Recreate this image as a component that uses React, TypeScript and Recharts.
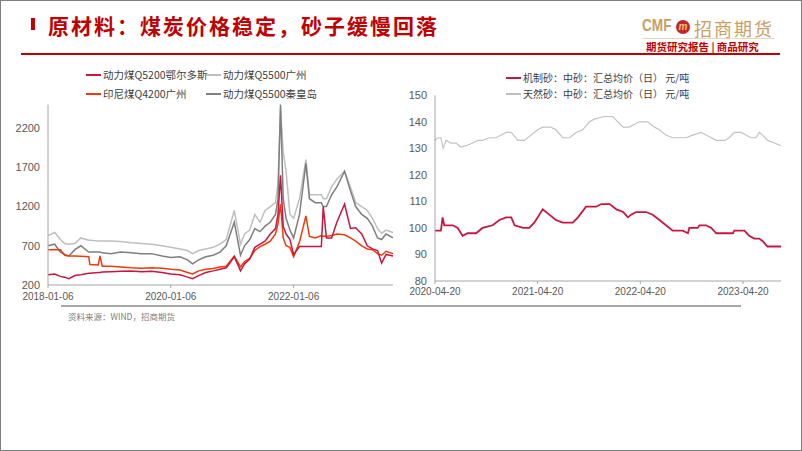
import React from 'react';
import { LineChart, Line, XAxis, YAxis } from 'recharts';

// left chart: thermal coal prices
const coalDates = [
  '2018-01-06', '2018-02-15', '2018-03-20', '2018-04-15', '2018-05-10', '2018-06-15', '2018-07-20',
  '2018-09-05', '2018-09-12', '2018-11-01', '2018-11-11', '2018-11-25', '2019-01-15', '2019-03-15',
  '2019-05-15', '2019-07-15', '2019-09-15', '2019-11-15', '2020-01-06', '2020-03-01', '2020-04-15',
  '2020-05-15', '2020-06-20', '2020-08-01', '2020-09-15', '2020-10-25', '2020-12-01', '2021-01-18',
  '2021-02-24', '2021-03-20', '2021-04-20', '2021-05-20', '2021-06-20', '2021-07-20', '2021-08-20',
  '2021-09-20', '2021-10-05', '2021-10-20', '2021-11-05', '2021-11-22', '2021-12-15', '2022-01-06',
  '2022-02-10', '2022-03-20', '2022-04-10', '2022-05-15', '2022-06-20', '2022-07-01', '2022-07-20',
  '2022-08-20', '2022-09-20', '2022-11-05', '2022-12-10', '2023-01-10', '2023-02-15', '2023-03-20',
  '2023-04-20', '2023-05-20', '2023-06-13', '2023-07-10', '2023-08-20',
];
const ordosQ5200 = [
  330, 340, 310, 300, 280, 320, 330, 350, 350, 360, 360, 365, 370, 375, 380, 370, 375, 360, 340, 330,
  300, 280, 320, 360, 380, 400, 420, 560, 380, 470, 530, 680, 720, 760, 850, 920, 1100, 1600, 950, 850,
  780, 590, 690, 690, 690, 690, 690, 1200, 800, 800, 1000, 1230, 920, 930, 850, 700, 660, 640, 480, 590, 570,
];
const guangzhouQ5500 = [
  830, 870, 780, 730, 720, 730, 800, 770, 770, 760, 760, 760, 760, 755, 740, 730, 720, 700, 680, 660,
  640, 600, 640, 660, 680, 720, 780, 1150, 720, 850, 900, 1100, 1000, 1150, 1200, 1250, 1500, 2450, 1900, 1650,
  1100, 1050, 1300, 1800, 1350, 1350, 1350, 1300, 1300, 1450, 1550, 1650, 1450, 1250, 1200, 1150, 1050, 920, 860, 900, 870,
];
const indoQ4200 = [
  650, 650, 650, 580, 570, 570, 565, 560, 460, 455, 570, 440, 440, 430, 420, 415, 420, 415, 400, 390,
  360, 340, 380, 400, 410, 430, 440, 570, 430, 500, 540, 640, 690, 720, 760, 850, 980, 1230, 800, 700,
  680, 560, 750, 1080, 820, 800, 830, 820, 820, 830, 850, 840, 800, 760, 700, 660, 650, 600, 580, 630, 600,
];
const qhdQ5500 = [
  700, 720, 620, 590, 570, 650, 700, 620, 620, 620, 620, 610, 600, 620, 610, 600, 600, 570, 550, 560,
  520, 470, 520, 560, 580, 620, 700, 1000, 580, 700, 780, 920, 880, 950, 1000, 1100, 1300, 2500, 1300, 1050,
  900, 800, 1100, 1750, 1300, 1250, 1250, 1200, 1200, 1350, 1450, 1650, 1400, 1200, 1100, 1050, 950, 800, 780, 850, 800,
];
const coalTicks = ['2018-01-06', '2020-01-06', '2022-01-06'];
const coalYTicks = [200, 700, 1200, 1700, 2200];

// right chart: sand prices
const machineSandDates = [
  '2020-04-20', '2020-05-11', '2020-05-17', '2020-05-23', '2020-06-22', '2020-07-10', '2020-07-27',
  '2020-08-14', '2020-09-13', '2020-10-06', '2020-11-11', '2020-12-05', '2020-12-29', '2021-01-16',
  '2021-01-28', '2021-02-27', '2021-03-21', '2021-04-08', '2021-05-08', '2021-05-31', '2021-06-24',
  '2021-07-18', '2021-08-23', '2021-09-10', '2021-10-09', '2021-11-14', '2021-12-02', '2022-01-01',
  '2022-01-25', '2022-02-18', '2022-03-07', '2022-03-18', '2022-04-05', '2022-05-10', '2022-06-03',
  '2022-06-27', '2022-07-20', '2022-08-13', '2022-09-18', '2022-10-06', '2022-10-11', '2022-11-10',
  '2022-11-16', '2022-12-10', '2022-12-28', '2023-01-15', '2023-02-20', '2023-03-15', '2023-03-20',
  '2023-04-25', '2023-05-12', '2023-05-30', '2023-06-17', '2023-06-29', '2023-07-16', '2023-09-02',
];
const machineSand = [
  99, 99, 104, 101, 101, 100, 97, 98, 98, 100, 101, 103, 104, 104, 101, 100, 100, 102, 107, 105,
  103, 102, 102, 104, 108, 108, 109, 109, 107, 106, 104, 105, 106, 106, 105, 103, 101, 99, 99, 98,
  100, 100, 101, 101, 100, 98, 98, 98, 99, 99, 97, 96, 96, 95, 93, 93,
];
const naturalSandDates = [
  '2020-04-20', '2020-04-29', '2020-05-11', '2020-05-19', '2020-05-29', '2020-06-16', '2020-07-04',
  '2020-07-21', '2020-08-08', '2020-09-01', '2020-09-19', '2020-10-06', '2020-10-30', '2020-11-23',
  '2020-12-29', '2021-01-16', '2021-02-09', '2021-03-04', '2021-03-27', '2021-04-20', '2021-05-08',
  '2021-06-06', '2021-06-24', '2021-07-18', '2021-08-11', '2021-09-04', '2021-09-27', '2021-10-21',
  '2021-11-07', '2021-12-13', '2022-01-12', '2022-01-30', '2022-02-18', '2022-03-12', '2022-03-29',
  '2022-04-16', '2022-05-16', '2022-06-09', '2022-06-27', '2022-07-20', '2022-08-13', '2022-09-30',
  '2022-10-23', '2022-11-22', '2022-12-10', '2022-12-28', '2023-01-15', '2023-02-14', '2023-03-02',
  '2023-03-20', '2023-04-13', '2023-05-01', '2023-05-18', '2023-06-05', '2023-06-17', '2023-06-29',
  '2023-07-16', '2023-08-10', '2023-09-02',
];
const naturalSand = [
  133, 134, 134, 130, 133, 132, 132, 130.5, 131, 132, 133, 133, 134, 134, 136, 136, 133, 133, 135, 137,
  138, 138, 137, 134, 134, 136, 137, 140, 141, 142, 142, 140, 138, 138, 139, 140, 140, 138, 137, 135,
  134, 134, 135, 136, 135, 134, 133, 133, 134, 136, 136, 135, 134, 134, 136, 135, 133, 132, 131,
];
const sandTicks = ['2020-04-20', '2021-04-20', '2022-04-20', '2023-04-20'];
const sandYTicks = [80, 90, 100, 110, 120, 130, 140, 150];

const toTs = (d: string) => Date.parse(d);
const fmtDate = (t: number) => new Date(t).toISOString().slice(0, 10);

const coalData = coalDates.map((d, i) => ({
  t: toTs(d),
  ordos: ordosQ5200[i],
  gz: guangzhouQ5500[i],
  indo: indoQ4200[i],
  qhd: qhdQ5500[i],
}));
const machineData = machineSandDates.map((d, i) => ({ t: toTs(d), v: machineSand[i] }));
const naturalData = naturalSandDates.map((d, i) => ({ t: toTs(d), v: naturalSand[i] }));

const FONT = '"Liberation Sans", "Noto Sans CJK SC", sans-serif';
const CJK = '"Noto Sans CJK SC", "Liberation Sans", sans-serif';
const RED = '#C00000';
const GOLD = '#C9A063';

const C_ORDOS = '#C8163F';
const C_GZ = '#BFBFBF';
const C_INDO = '#EE3A0C';
const C_QHD = '#7F7F7F';

function LegendItem({ x, y, color, label, size = 11 }: { x: number; y: number; color: string; label: string; size?: number }) {
  return (
    <div style={{ position: 'absolute', left: x, top: y, display: 'flex', alignItems: 'center', whiteSpace: 'nowrap' }}>
      <div style={{ width: 15, height: 2, background: color, marginRight: 2 }} />
      <span style={{ fontFamily: CJK, fontSize: size, color: '#404040', lineHeight: 1 }}>{label}</span>
    </div>
  );
}

const axisTick = { fill: '#595959', fontSize: 11, fontFamily: FONT };
const xTick = { fill: '#595959', fontSize: 10, fontFamily: FONT };

export default function App() {
  return (
    <div
      style={{
        position: 'absolute',
        left: 0,
        top: 0,
        width: 802,
        height: 451,
        boxSizing: 'border-box',
        border: '1px solid #7f7f7f',
        background: '#fff',
        overflow: 'hidden',
        fontFamily: FONT,
      }}
    >
      {/* title */}
      <div style={{ position: 'absolute', left: 30, top: 17, width: 4, height: 12, background: RED }} />
      <div
        style={{
          position: 'absolute',
          left: 47,
          top: 9,
          fontFamily: CJK,
          fontWeight: 700,
          fontSize: 21,
          letterSpacing: 2,
          color: RED,
          whiteSpace: 'nowrap',
        }}
      >
        原材料：煤炭价格稳定，砂子缓慢回落
      </div>
      <div style={{ position: 'absolute', left: 20, top: 52, width: 759, height: 2, background: RED }} />

      {/* logo */}
      <div
        style={{
          position: 'absolute',
          left: 641,
          top: 15,
          fontFamily: FONT,
          fontWeight: 700,
          fontSize: 17,
          color: GOLD,
          transform: 'scaleX(0.8)',
          transformOrigin: 'left top',
        }}
      >
        CMF
      </div>
      <div
        style={{
          position: 'absolute',
          left: 675,
          top: 19,
          width: 14,
          height: 14,
          borderRadius: '50%',
          background: '#C0282D',
          color: '#F2C46B',
          fontSize: 10,
          fontWeight: 700,
          fontStyle: 'italic',
          textAlign: 'center',
          lineHeight: '13px',
          fontFamily: FONT,
        }}
      >
        m
      </div>
      <div style={{ position: 'absolute', left: 693, top: 14, fontFamily: CJK, fontSize: 18, color: GOLD, letterSpacing: 2, whiteSpace: 'nowrap' }}>
        招商期货
      </div>
      <div style={{ position: 'absolute', left: 642, top: 37, width: 132, height: 1, background: '#E6D7BC' }} />
      <div style={{ position: 'absolute', left: 645, top: 38, fontFamily: CJK, fontSize: 10.5, fontWeight: 700, color: RED, whiteSpace: 'nowrap' }}>
        期货研究报告 | 商品研究
      </div>

      {/* left chart legend */}
      <LegendItem x={85} y={69} color={C_ORDOS} label="动力煤Q5200鄂尔多斯" size={10.5} />
      <LegendItem x={205} y={69} color={C_GZ} label="动力煤Q5500广州" size={10.5} />
      <LegendItem x={85} y={88} color={C_INDO} label="印尼煤Q4200广州" size={10.5} />
      <LegendItem x={205} y={88} color={C_QHD} label="动力煤Q5500秦皇岛" size={10.5} />

      <div style={{ position: 'absolute', left: 0, top: 60 }}>
        <LineChart width={400} height={250} data={coalData} margin={{ top: 43.6, right: 8, bottom: 6, left: 7 }}>
          <XAxis
            dataKey="t"
            type="number"
            scale="time"
            domain={[toTs('2018-01-06'), toTs('2023-08-20')]}
            ticks={coalTicks.map(toTs)}
            tickFormatter={fmtDate}
            tick={xTick}
            stroke="#A6A6A6"
            tickSize={3}
            tickMargin={5}
            height={20}
            interval={0}
          />
          <YAxis
            type="number"
            domain={[200, 2500]}
            ticks={coalYTicks}
            tick={axisTick}
            stroke="#A6A6A6"
            tickLine={false}
            width={40}
            interval={0}
          />
          <Line dataKey="gz" stroke={C_GZ} strokeWidth={1.5} dot={false} isAnimationActive={false} />
          <Line dataKey="qhd" stroke={C_QHD} strokeWidth={1.5} dot={false} isAnimationActive={false} />
          <Line dataKey="indo" stroke={C_INDO} strokeWidth={1.5} dot={false} isAnimationActive={false} />
          <Line dataKey="ordos" stroke={C_ORDOS} strokeWidth={1.5} dot={false} isAnimationActive={false} />
        </LineChart>
      </div>

      {/* right chart legend */}
      <LegendItem x={505} y={72} color={C_ORDOS} label="机制砂：中砂：汇总均价（日） 元/吨" size={10} />
      <LegendItem x={505} y={88} color={C_GZ} label="天然砂：中砂：汇总均价（日） 元/吨" size={10} />

      <div style={{ position: 'absolute', left: 395, top: 60 }}>
        <LineChart width={400} height={240} margin={{ top: 34.3, right: 15, bottom: 2, left: 0 }}>
          <XAxis
            dataKey="t"
            type="number"
            scale="time"
            domain={[toTs('2020-04-20'), toTs('2023-09-02')]}
            ticks={sandTicks.map(toTs)}
            tickFormatter={fmtDate}
            tick={xTick}
            stroke="#A6A6A6"
            tickSize={3}
            tickMargin={4}
            height={18}
            interval={0}
            allowDuplicatedCategory={false}
          />
          <YAxis
            type="number"
            domain={[80, 150]}
            ticks={sandYTicks}
            tick={axisTick}
            stroke="#A6A6A6"
            tickLine={false}
            width={39}
            interval={0}
          />
          <Line data={naturalData} dataKey="v" stroke="#C3C3C3" strokeWidth={1.2} dot={false} isAnimationActive={false} />
          <Line data={machineData} dataKey="v" stroke={C_ORDOS} strokeWidth={1.8} dot={false} isAnimationActive={false} />
        </LineChart>
      </div>

      {/* footer */}
      <div style={{ position: 'absolute', left: 60, top: 304, width: 680, height: 2, background: '#A6A6A6' }} />
      <div style={{ position: 'absolute', left: 67, top: 309, fontFamily: CJK, fontSize: 8.5, color: '#808080', whiteSpace: 'nowrap' }}>
        资料来源：WIND，招商期货
      </div>
    </div>
  );
}
